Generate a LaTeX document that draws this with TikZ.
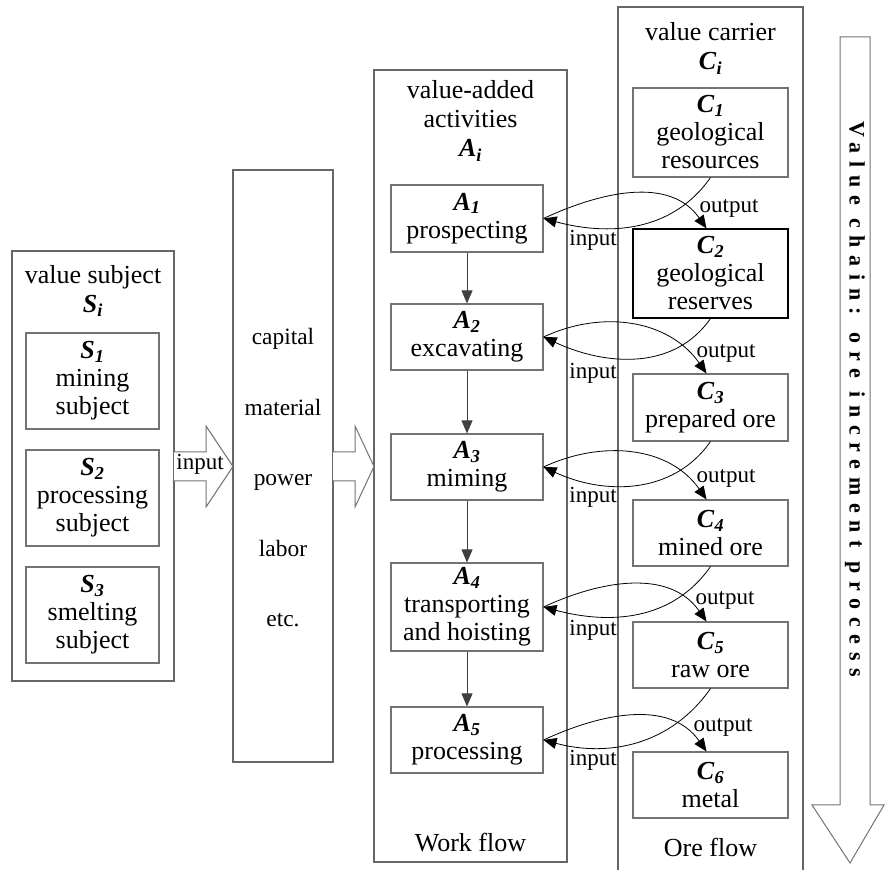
\documentclass[tikz,border=0pt]{standalone}
\usepackage{fontspec}
\setmainfont{Liberation Serif}
\usetikzlibrary{arrows.meta,positioning}

\newcommand{\ent}[2]{\textbf{\textit{#1}}\textsubscript{\textbf{\textit{#2}}}}

\tikzset{
  cont/.style={draw=black!60, line width=1.1pt, inner sep=0pt},
  stage/.style={draw=black!55, line width=1.1pt, align=center, inner sep=0pt,
    font=\fontsize{26}{28}\selectfont},
  abox/.style={stage, minimum width=152pt},
  cbox/.style={stage, minimum width=155pt},
  sbox/.style={stage, minimum width=133pt, minimum height=96pt},
  title/.style={align=center, inner sep=0pt, font=\fontsize{26}{29}\selectfont},
  lbl/.style={inner sep=0pt, font=\fontsize{23}{25}\selectfont},
  fat/.style={draw=black!55, line width=1pt, fill=white},
  flow/.style={-{Triangle[length=13pt,width=11pt]}, line width=0.8pt},
}

\begin{document}
\begin{tikzpicture}[x=1pt, y=1pt]
  \useasboundingbox (0,0) rectangle (885,869);

  % containers
  \node[cont, minimum width=162pt, minimum height=430pt] (S) at (93,403) {};
  \node[cont, minimum width=100pt, minimum height=592pt] (M) at (283,403) {};
  \node[cont, minimum width=193pt, minimum height=792pt] (W) at (470.5,403) {};
  \node[cont, minimum width=185pt, minimum height=883pt] (O) at (710.5,420.5) {};

  \node[title] (Stitle) at (93,578) {value subject\\\ent{S}{i}};
  \node[title] (Wtitle) at (470.5,748) {value-added\\activities\\\ent{A}{i}};
  \node[title] (Otitle) at (710.5,820.5) {value carrier\\\ent{C}{i}};

  % value subjects
  \node[sbox] (S1) at (92.5,488) {\ent{S}{1}\\mining\\subject};
  \node[sbox] (S2) at (92.5,371) {\ent{S}{2}\\processing\\subject};
  \node[sbox] (S3) at (92.5,254) {\ent{S}{3}\\smelting\\subject};

  % resources
  \node[align=center, inner sep=0pt, font=\fontsize{23.4}{70.5}\selectfont] (res) at (283,391)
    {capital\\material\\power\\labor\\etc.};

  % activities
  \node[abox, minimum height=67pt] (A1) at (467,650.5) {\ent{A}{1}\\prospecting};
  \node[abox, minimum height=66pt] (A2) at (467,532) {\ent{A}{2}\\excavating};
  \node[abox, minimum height=66pt] (A3) at (467,402) {\ent{A}{3}\\miming};
  \node[abox, minimum height=88pt] (A4) at (467,262) {\ent{A}{4}\\transporting\\and hoisting};
  \node[abox, minimum height=66pt] (A5) at (467,129) {\ent{A}{5}\\processing};

  % carriers
  \node[cbox, minimum height=89pt] (C1) at (710.5,736.5) {\ent{C}{1}\\geological\\resources};
  \node[cbox, minimum height=89pt, draw=black] (C2) at (710.5,595.5) {\ent{C}{2}\\geological\\reserves};
  \node[cbox, minimum height=67pt] (C3) at (710.5,461.5) {\ent{C}{3}\\prepared ore};
  \node[cbox, minimum height=66pt] (C4) at (710.5,336) {\ent{C}{4}\\mined ore};
  \node[cbox, minimum height=66pt] (C5) at (710.5,214) {\ent{C}{5}\\raw ore};
  \node[cbox, minimum height=66pt] (C6) at (710.5,84) {\ent{C}{6}\\metal};

  \node[title] (wf) at (470.5,26) {Work flow};
  \node[title] (of) at (710.5,22) {Ore flow};

  % wide arrows
  \draw[fat] (174,417) -- (206,417) -- (206,443) -- (233,402.5) -- (206,362) -- (206,388) -- (174,388);
  \node[lbl] (in0) at (200,405) {input};
  \draw[fat] (333,417) -- (355,417) -- (355,443) -- (374,402.5) -- (355,362) -- (355,388) -- (333,388);

  % value chain arrow
  \draw[fat] (840,832) -- (870,832) -- (870,64) -- (884,64) -- (850,6) -- (812,64) -- (840,64) -- cycle;
  \node[rotate=-90, inner sep=0pt, font=\fontsize{22}{22}\selectfont\bfseries\addfontfeature{LetterSpace=35}] (vc) at (855,470)
    {Value chain: ore increment process};

  % work flow
  \draw[flow, draw=black!75] (A1) -- (A2);
  \draw[flow, draw=black!75] (A2) -- (A3);
  \draw[flow, draw=black!75] (A3) -- (A4);
  \draw[flow, draw=black!75] (A4) -- (A5);

  % input / output
  \draw[flow] (A1.east) to[out=25,in=125] ([xshift=-4pt]C2.north);
  \draw[flow] (C1.south) to[out=235,in=-15] (A1.east);
  \node[lbl] (out1) at (729,661) {output};
  \node[lbl] (in1) at (593,629) {input};

  \draw[flow] (A2.east) to[out=25,in=125] ([xshift=-4pt]C3.north);
  \draw[flow] (C2.south) to[out=235,in=-25] (A2.east);
  \node[lbl] (out2) at (726,516) {output};
  \node[lbl] (in2) at (593,496) {input};

  \draw[flow] (A3.east) to[out=25,in=125] ([xshift=-4pt]C4.north);
  \draw[flow] (C3.south) to[out=235,in=-25] (A3.east);
  \node[lbl] (out3) at (726,391) {output};
  \node[lbl] (in3) at (593,372) {input};

  \draw[flow] (A4.east) to[out=25,in=125] ([xshift=-4pt]C5.north);
  \draw[flow] (C4.south) to[out=235,in=-15] (A4.east);
  \node[lbl] (out4) at (725,269) {output};
  \node[lbl] (in4) at (593,239) {input};

  \draw[flow] (A5.east) to[out=25,in=125] ([xshift=-4pt]C6.north);
  \draw[flow] (C5.south) to[out=235,in=-15] (A5.east);
  \node[lbl] (out5) at (723,142) {output};
  \node[lbl] (in5) at (593,109) {input};
\end{tikzpicture}
\end{document}
